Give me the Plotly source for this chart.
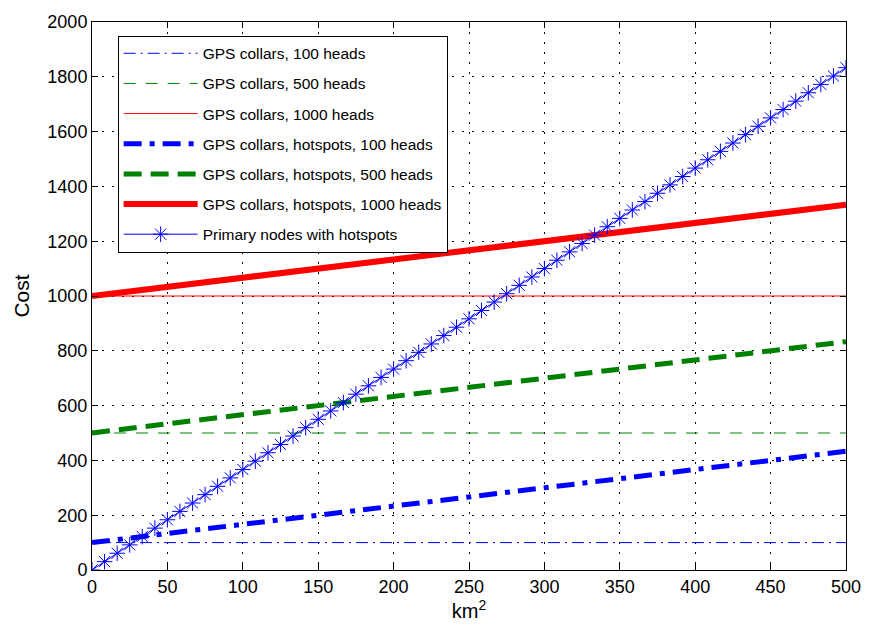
import plotly.graph_objects as go

# ---- data ----
x_line = [0, 100, 200, 300, 400, 500]
gps_100 = [100, 100, 100, 100, 100, 100]
gps_500 = [500, 500, 500, 500, 500, 500]
gps_1000 = [1000, 1000, 1000, 1000, 1000, 1000]
hot_100 = [100, 166.7, 233.3, 300, 366.7, 433.3]
hot_500 = [500, 566.7, 633.3, 700, 766.7, 833.3]
hot_1000 = [1000, 1066.7, 1133.3, 1200, 1266.7, 1333.3]

x_nodes = [0, 8.3, 16.7, 25, 33.3, 41.7, 50, 58.3, 66.7, 75, 83.3, 91.7, 100,
           108.3, 116.7, 125, 133.3, 141.7, 150, 158.3, 166.7, 175, 183.3, 191.7,
           200, 208.3, 216.7, 225, 233.3, 241.7, 250, 258.3, 266.7, 275, 283.3,
           291.7, 300, 308.3, 316.7, 325, 333.3, 341.7, 350, 358.3, 366.7, 375,
           383.3, 391.7, 400, 408.3, 416.7, 425, 433.3, 441.7, 450, 458.3, 466.7,
           475, 483.3, 491.7, 500]
nodes = [0, 30.6, 61.1, 91.7, 122.2, 152.8, 183.3, 213.9, 244.4, 275, 305.6,
         336.1, 366.7, 397.2, 427.8, 458.3, 488.9, 519.4, 550, 580.6, 611.1,
         641.7, 672.2, 702.8, 733.3, 763.9, 794.4, 825, 855.6, 886.1, 916.7,
         947.2, 977.8, 1008.3, 1038.9, 1069.4, 1100, 1130.6, 1161.1, 1191.7,
         1222.2, 1252.8, 1283.3, 1313.9, 1344.4, 1375, 1405.6, 1436.1, 1466.7,
         1497.2, 1527.8, 1558.3, 1588.9, 1619.4, 1650, 1680.6, 1711.1, 1741.7,
         1772.2, 1802.8, 1833.3]

x_ticks = [0, 50, 100, 150, 200, 250, 300, 350, 400, 450, 500]
y_ticks = [0, 200, 400, 600, 800, 1000, 1200, 1400, 1600, 1800, 2000]

BLUE = "rgb(0,0,255)"
GREEN = "rgb(0,128,0)"
RED = "rgb(255,0,0)"
FONT = "Liberation Sans, Arial, sans-serif"

fig = go.Figure()

def add(x, y, name, color, width, dash, group, **kw):
    fig.add_trace(go.Scatter(x=x, y=y, name=name, mode=kw.pop("mode", "lines"),
                             line=dict(color=color, width=width, dash=dash),
                             legendgroup=group, **kw))

add(x_line, gps_100, "GPS collars, 100 heads", BLUE, 1, "12px,5px,2px,5px", "g1")
add(x_line, gps_500, "GPS collars, 500 heads", GREEN, 1, "12px,10px", "g2")
add(x_line, gps_1000, "GPS collars, 1000 heads", RED, 1, "solid", "g3")
add(x_line, hot_100, "GPS collars, hotspots, 100 heads", BLUE, 5, "18px,8px,5px,8px", "g4")
add(x_line, hot_500, "GPS collars, hotspots, 500 heads", GREEN, 5, "18px,9px", "g5")
add(x_line, hot_1000, "GPS collars, hotspots, 1000 heads", RED, 6, "solid", "g6")
add(x_nodes, nodes, "Primary nodes with hotspots", BLUE, 1, "solid", "g7",
    mode="lines+markers",
    marker=dict(symbol="asterisk-open", size=13, color=BLUE,
                line=dict(color=BLUE, width=1)))

axis_common = dict(
    showline=True, linecolor="black", linewidth=1, mirror="ticks",
    ticks="inside", ticklen=6, tickcolor="black",
    showgrid=True, gridcolor="black", gridwidth=1, griddash="2px,8px",
    zeroline=False, tickfont=dict(size=18, color="black", family=FONT),
)

fig.update_layout(
    width=873, height=629,
    margin=dict(l=92, r=16, t=17, b=52),
    paper_bgcolor="white", plot_bgcolor="white",
    font=dict(family=FONT, color="black"),
    xaxis=dict(range=[0, 500], tickvals=x_ticks, ticktext=[str(v) for v in x_ticks],
               title=dict(text="km<sup>2</sup>", font=dict(size=20), standoff=6),
               **axis_common),
    yaxis=dict(range=[0, 2000], tickvals=y_ticks, ticktext=[str(v) for v in y_ticks],
               title=dict(text="Cost", font=dict(size=21), standoff=12),
               **axis_common),
    legend=dict(x=0.034, y=0.975, xanchor="left", yanchor="top",
                bgcolor="white", bordercolor="black", borderwidth=1,
                font=dict(size=15.5, color="black", family=FONT),
                tracegroupgap=7, itemwidth=74),
    hovermode=False,
)

fig.write_html("out.html",
               config={"displayModeBar": False},
               post_script="document.body.style.margin='0';document.body.style.overflow='hidden';")
